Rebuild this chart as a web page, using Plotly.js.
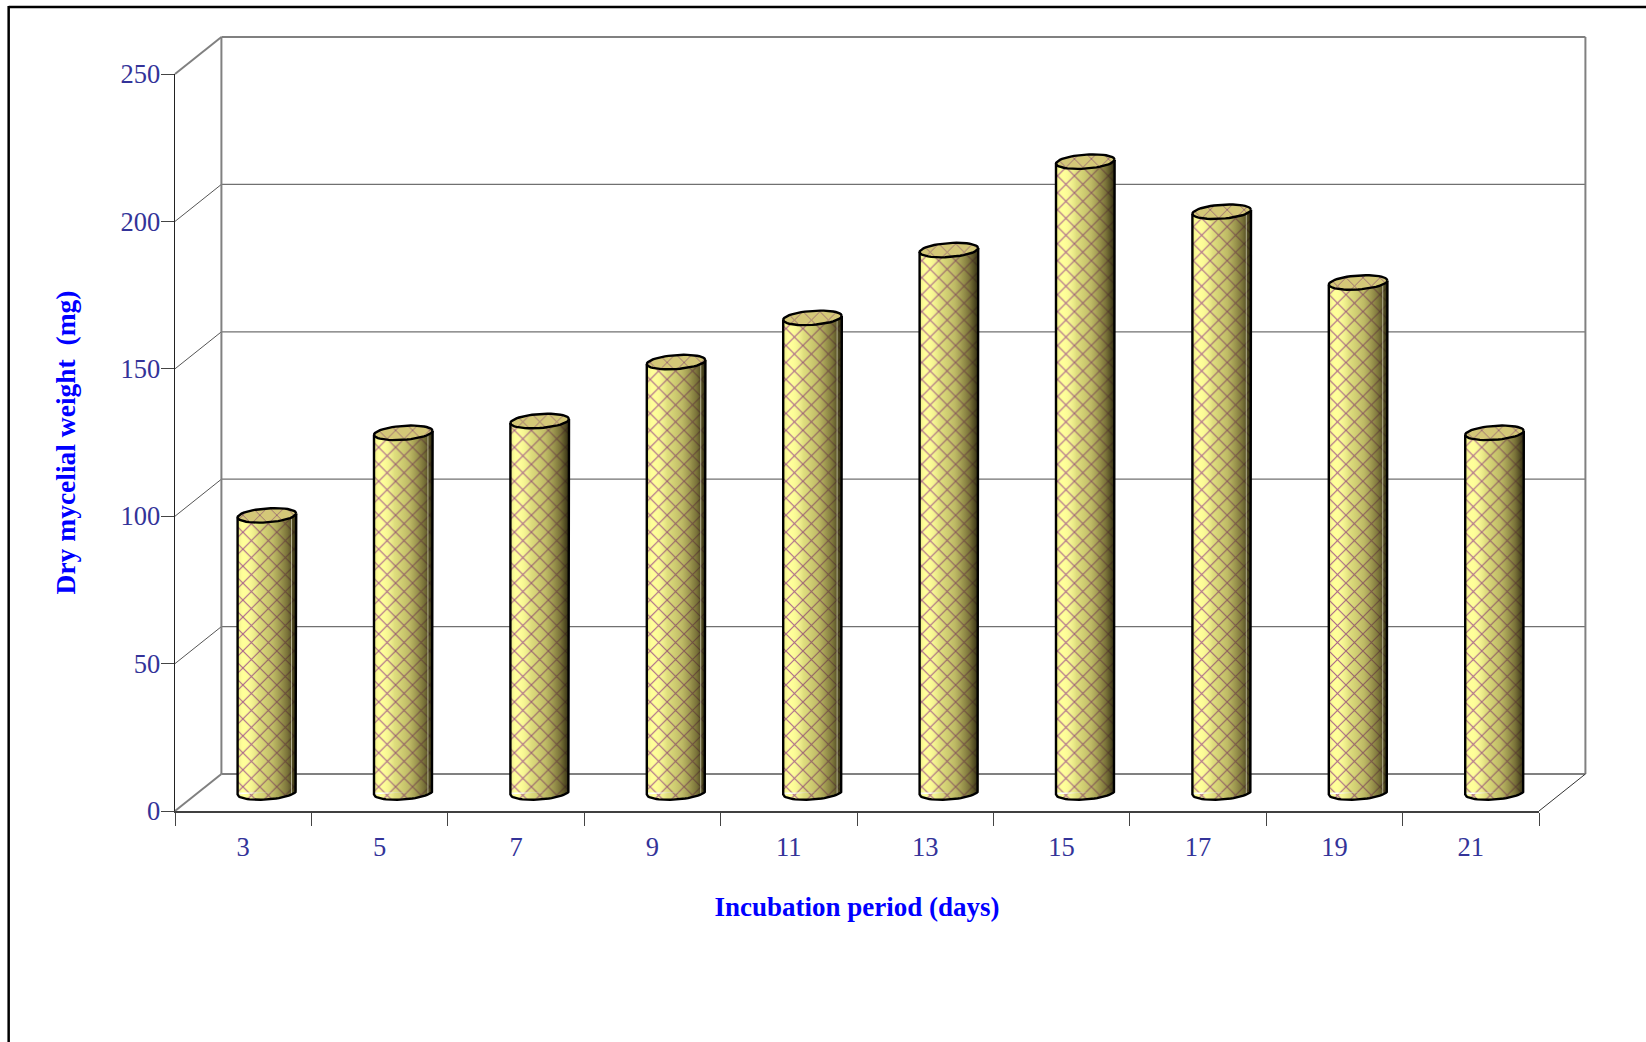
<!DOCTYPE html>
<html>
<head>
<meta charset="utf-8">
<script src="https://cdn.plot.ly/plotly-3.0.1.min.js"></script>
<style>html,body{margin:0;padding:0;background:#fff;}#chart{width:1646px;height:1042px;}</style>
</head>
<body>
<div id="chart"></div>
<script>
// Dry mycelial weight against incubation time
const incubationDays = ['3', '5', '7', '9', '11', '13', '15', '17', '19', '21'];
const dryWeightMg = [94, 122, 126, 146, 161, 184, 214, 197, 173, 122];
const weightTicks = [0, 50, 100, 150, 200, 250];

const xLabel = 'Incubation period (days)';
const yLabel = 'Dry mycelial weight\u00a0\u00a0(mg)';

// Page geometry of the front plane and of the pseudo-3D box behind it
const W = 1646, H = 1042;
const plot = {left: 175.3, right: 1539, top: 74, bottom: 811};
const depth = {dx: 46.4, dy: 37};
const plotW = plot.right - plot.left, plotH = plot.bottom - plot.top;
const catPx = plotW / incubationDays.length;
const unitPx = plotH / 250;

// Cylinders stand halfway into the box
const radiusX = 29.3 / catPx;
const radiusY = 7 / unitPx;
const tilt = 2 / unitPx;
const shiftX = (depth.dx / 2 + 0.5) / catPx;
const baseY = (depth.dy / 2) / unitPx;

const px = v => (v - plot.left) / plotW;
const py = v => (plot.bottom - v) / plotH;
const line = (x0, y0, x1, y1, color, width) => ({
  type: 'line', xref: 'paper', yref: 'paper', layer: 'below',
  x0: px(x0), y0: py(y0), x1: px(x1), y1: py(y1),
  line: {color, width}
});

// Back wall, side wall and floor
const boxShapes = [];
weightTicks.forEach(t => {
  const fy = plot.bottom - t * unitPx;
  const by = fy - depth.dy;
  const edge = t === 0 || t === 250;
  boxShapes.push(line(plot.left, fy, plot.left + depth.dx, by, edge ? '#808080' : '#555555', edge ? 2 : 1));
  boxShapes.push(line(plot.left + depth.dx, by, plot.right + depth.dx, by, edge ? '#808080' : '#707070', edge ? 2 : 1.2));
});
boxShapes.push(line(plot.left + depth.dx, plot.top - depth.dy, plot.left + depth.dx, plot.bottom - depth.dy, '#808080', 2));
boxShapes.push(line(plot.right + depth.dx, plot.top - depth.dy, plot.right + depth.dx, plot.bottom - depth.dy, '#808080', 2));
boxShapes.push(line(plot.right, plot.bottom, plot.right + depth.dx, plot.bottom - depth.dy, '#333333', 1));
// Page frame
boxShapes.push(line(9, 7, W, 7, '#000000', 2.5));
boxShapes.push(line(9, 6, 9, H, '#000000', 2.5));

function arc(cx, cy, from, to, n) {
  const xs = [], ys = [];
  for (let k = 0; k <= n; k++) {
    const a = from + (to - from) * k / n;
    xs.push(cx + radiusX * Math.cos(a));
    ys.push(cy + radiusY * Math.sin(a) + tilt * Math.cos(a));
  }
  return {xs, ys};
}
const joinPaths = paths => ({
  x: paths.flatMap(p => p.xs.concat([null])),
  y: paths.flatMap(p => p.ys.concat([null]))
});

const centers = incubationDays.map((_, i) => i + shiftX);
const tops = dryWeightMg.map(v => v + baseY);

const lattice = (bg) => ({shape: 'x', fgcolor: '#a8608a', bgcolor: bg, size: 12, solidity: 0.18, fillmode: 'replace'});

const traces = [];

// Cylinder bodies
traces.push({
  type: 'bar', x: incubationDays, y: dryWeightMg, base: baseY,
  width: radiusX * 2, offset: shiftX - radiusX,
  marker: {color: '#ffff99', line: {width: 0}, pattern: lattice('#ffff99')},
  hoverinfo: 'skip', showlegend: false, xaxis: 'x', yaxis: 'y'
});

// Rounded feet of the cylinders
const feet = joinPaths(centers.map(cx => arc(cx, baseY, 0, -Math.PI, 30)));
traces.push({
  type: 'scatter', mode: 'none', x: feet.x, y: feet.y, fill: 'toself', xaxis: 'x2', yaxis: 'y',
  fillcolor: '#ffff99', fillpattern: lattice('#ffff99'), hoverinfo: 'skip', showlegend: false, cliponaxis: false
});

// Horizontal shading across each cylinder
centers.forEach((cx, i) => {
  const foot = arc(cx, baseY, 0, -Math.PI, 30);
  traces.push({
    type: 'scatter', mode: 'none', xaxis: 'x2', yaxis: 'y', fill: 'toself', cliponaxis: false,
    x: [cx - radiusX, cx + radiusX].concat(foot.xs, [cx - radiusX]),
    y: [tops[i], tops[i]].concat(foot.ys, [tops[i]]),
    fillgradient: {type: 'horizontal', colorscale: [
      [0, 'rgba(120,110,30,0.2)'], [0.1, 'rgba(255,255,180,0)'], [0.35, 'rgba(110,105,30,0.22)'],
      [0.6, 'rgba(100,90,30,0.42)'], [0.85, 'rgba(70,60,20,0.72)'], [1, 'rgba(30,25,5,0.92)']
    ]},
    hoverinfo: 'skip', showlegend: false
  });
});

// Thin reflection near the shaded edge, present on most cylinders
const glintDays = ['3', '5', '9', '11', '17', '19'];
const glint = joinPaths(centers.map((cx, i) => glintDays.includes(incubationDays[i]) ? {
  xs: [cx + radiusX * 0.84, cx + radiusX * 0.84], ys: [tops[i] - tilt, baseY - radiusY * 0.45]
} : {xs: [], ys: []}));
traces.push({
  type: 'scatter', mode: 'lines', x: glint.x, y: glint.y, xaxis: 'x2', yaxis: 'y',
  line: {color: 'rgba(255,255,235,0.55)', width: 1}, hoverinfo: 'skip', showlegend: false, cliponaxis: false
});

// Cylinder lids
const lids = joinPaths(centers.map((cx, i) => arc(cx, tops[i], 0, 2 * Math.PI, 48)));
traces.push({
  type: 'scatter', mode: 'lines', x: lids.x, y: lids.y, fill: 'toself', xaxis: 'x2', yaxis: 'y',
  fillcolor: '#d4c878', fillpattern: {shape: 'x', fgcolor: '#9a6a70', bgcolor: '#d4c878', size: 12, solidity: 0.15, fillmode: 'replace'},
  line: {color: '#000000', width: 2.4},
  hoverinfo: 'skip', showlegend: false, cliponaxis: false
});

// Cylinder silhouettes
const outline = joinPaths(centers.map((cx, i) => {
  const foot = arc(cx, baseY, 0, -Math.PI, 30);
  return {
    xs: [cx + radiusX].concat(foot.xs, [cx - radiusX]),
    ys: [tops[i] + tilt].concat(foot.ys, [tops[i] - tilt])
  };
}));
traces.push({
  type: 'scatter', mode: 'lines', x: outline.x, y: outline.y, xaxis: 'x2', yaxis: 'y',
  line: {color: '#000000', width: 2.4}, hoverinfo: 'skip', showlegend: false, cliponaxis: false
});

const tickFont = {family: '"Liberation Serif", serif', size: 26.5, color: '#333399'};
const xTitleFont = {family: '"Liberation Serif", serif', size: 27, color: '#0000ff', weight: 'bold'};
const yTitleFont = {family: '"Liberation Serif", serif', size: 27.5, color: '#0000ff', weight: 'bold'};

const layout = {
  width: W, height: H,
  margin: {l: plot.left, r: W - plot.right, t: plot.top, b: H - plot.bottom, pad: 0},
  paper_bgcolor: '#ffffff', plot_bgcolor: 'rgba(0,0,0,0)',
  showlegend: false, barmode: 'overlay', hovermode: false,
  shapes: boxShapes,
  xaxis: {
    type: 'category', categoryorder: 'array', categoryarray: incubationDays,
    range: [-0.5, 9.5], tickson: 'boundaries', ticks: 'outside', ticklen: 13, tickwidth: 1, tickcolor: '#444444',
    showline: true, linecolor: '#404040', linewidth: 2, showgrid: false, zeroline: false,
    tickfont: tickFont, ticklabelstandoff: 11,
    title: {text: xLabel, font: xTitleFont, standoff: 36}
  },
  xaxis2: {
    overlaying: 'x', side: 'bottom', type: 'linear', range: [-0.5, 9.5], visible: false, fixedrange: true
  },
  yaxis: {
    range: [0, 250], tickmode: 'array', tickvals: weightTicks, ticktext: weightTicks.map(String),
    ticks: 'outside', ticklen: 13, tickwidth: 1, tickcolor: '#444444',
    showline: true, linecolor: '#222222', linewidth: 1.5, showgrid: false, zeroline: false,
    tickfont: tickFont, ticklabelstandoff: -5,
    title: {text: yLabel, font: yTitleFont, standoff: 37}
  }
};

Plotly.newPlot('chart', traces, layout, {staticPlot: true, displayModeBar: false});
</script>
</body>
</html>
